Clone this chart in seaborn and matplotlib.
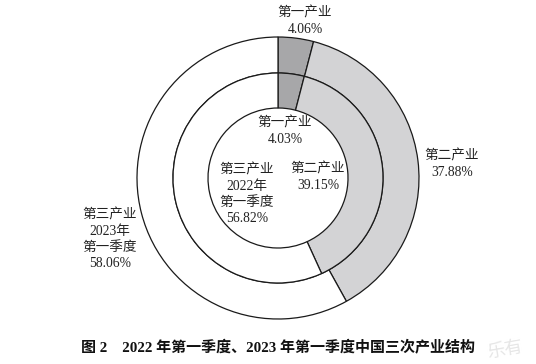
import matplotlib
matplotlib.use("Agg")
import matplotlib.pyplot as plt
import seaborn as sns

# data
industries = ["第一产业", "第二产业", "第三产业"]
share_2023 = [4.06, 37.88, 58.06]
share_2022 = [4.03, 39.15, 56.82]
caption = "图 2　2022 年第一季度、2023 年第一季度中国三次产业结构"

sns.set_theme(style="white")
plt.rcParams["font.family"] = ["Liberation Serif", "Noto Sans CJK SC", "DejaVu Sans"]

colors = ["#a7a7a9", "#d3d3d5", "#ffffff"]

W, H = 536, 364
fig = plt.figure(figsize=(W / 100, H / 100), dpi=100)
ax = fig.add_axes([0, 0, 1, 1])

cx, cy = 278, H - 178
edge = dict(edgecolor="#1a1a1a", linewidth=0.9)

ax.pie(share_2023, colors=colors, startangle=90, counterclock=False,
       radius=141, center=(cx, cy), wedgeprops=dict(width=36, **edge))
ax.pie(share_2022, colors=colors, startangle=90, counterclock=False,
       radius=105, center=(cx, cy), wedgeprops=dict(width=35, **edge))

ax.set_xlim(0, W)
ax.set_ylim(0, H)
ax.set_aspect("equal")
ax.axis("off")

fs = 9.8
tc = "#222222"

def lab(x, y, s):
    ax.text(x, H - y, s, ha="center", va="center", fontsize=fs, color=tc,
            linespacing=1.3)

# outer ring (2023)
lab(305, 21, f"{industries[0]}\n{share_2023[0]:.2f}%")
lab(452, 164, f"{industries[1]}\n{share_2023[1]:.2f}%")
lab(110, 239, f"{industries[2]}\n2023年\n第一季度\n{share_2023[2]:.2f}%")
# inner ring (2022)
lab(285, 131, f"{industries[0]}\n{share_2022[0]:.2f}%")
lab(318, 177, f"{industries[1]}\n{share_2022[1]:.2f}%")
lab(247, 194, f"{industries[2]}\n2022年\n第一季度\n{share_2022[2]:.2f}%")

ax.text(278, H - 347, caption, ha="center", va="center", fontsize=10.8,
        fontweight="bold", color="#111111")

# faint watermark in the corner
ax.text(505, 2, "乐有", ha="center", va="bottom", fontsize=13,
        color="#e6e6e6", rotation=10, family=["Noto Sans CJK SC"])

fig.savefig("out.png", dpi=100)
